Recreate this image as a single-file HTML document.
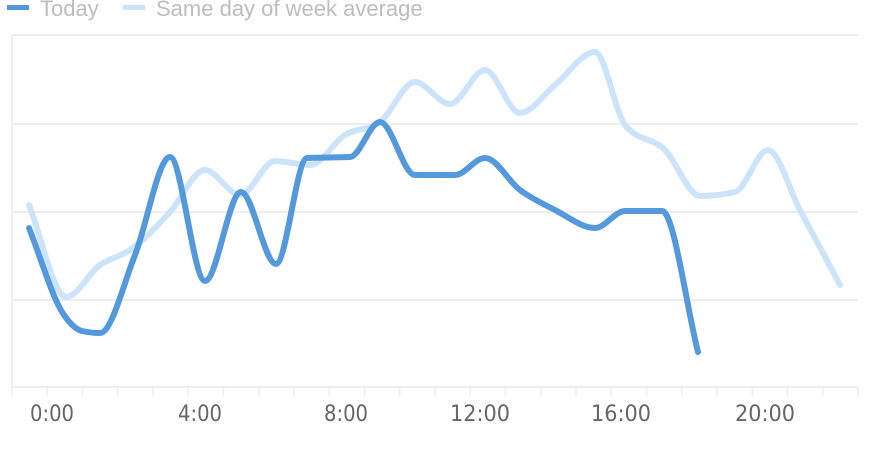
<!DOCTYPE html>
<html><head><meta charset="utf-8"><style>
html,body{margin:0;padding:0;background:#fff;width:888px;height:472px;overflow:hidden}
svg{display:block;font-family:"Liberation Sans",sans-serif}
</style></head><body>
<svg id="s" width="888" height="472" viewBox="0 0 888 472">
<rect x="7" y="5" width="22" height="5" fill="#5599dd"/>
<text x="40" y="16" font-size="22" fill="#bdbdbd">Today</text>
<rect x="123" y="5" width="22" height="5" fill="#cce4fb"/>
<text x="156" y="16" font-size="22" fill="#bdbdbd">Same day of week average</text>
<g stroke="#eeeeee" stroke-width="2" fill="none">
<line x1="12" y1="35" x2="858" y2="35"/>
<line x1="12" y1="124" x2="858" y2="124"/>
<line x1="12" y1="212" x2="858" y2="212"/>
<line x1="12" y1="300" x2="858" y2="300"/>
<line x1="12" y1="387" x2="858" y2="387"/>
<line x1="12" y1="35" x2="12" y2="387"/>
</g>
<g id="ticks" stroke="#eeeeee" stroke-width="1.5"></g>
<g font-size="22" fill="#666" text-anchor="middle" font-family="'DejaVu Sans Condensed','Liberation Sans Narrow','Liberation Sans',sans-serif">
<text x="52" y="421" textLength="44" lengthAdjust="spacingAndGlyphs">0:00</text>
<text x="200" y="421" textLength="44" lengthAdjust="spacingAndGlyphs">4:00</text>
<text x="346" y="421" textLength="44" lengthAdjust="spacingAndGlyphs">8:00</text>
<text x="480" y="421" textLength="60" lengthAdjust="spacingAndGlyphs">12:00</text>
<text x="621" y="421" textLength="60" lengthAdjust="spacingAndGlyphs">16:00</text>
<text x="765" y="421" textLength="60" lengthAdjust="spacingAndGlyphs">20:00</text>
</g>
<path id="avg" fill="none" stroke="#cce4fb" stroke-width="6" stroke-linecap="round" stroke-linejoin="round"/>
<path id="today" fill="none" stroke="#5599dd" stroke-width="6" stroke-linecap="round" stroke-linejoin="round"/>
</svg>
<script>
var t=document.getElementById('ticks'),h='';
for(var i=0;i<=24;i++){var x=12+i*35.25;h+='<line x1="'+x+'" y1="388" x2="'+x+'" y2="396"/>';}
t.innerHTML=h;
function mono(p){var n=p.length,s=[],m=[];
for(var i=0;i<n-1;i++)s.push((p[i+1][1]-p[i][1])/(p[i+1][0]-p[i][0]));
for(var i=0;i<n;i++){if(i==0)m.push(s[0]);else if(i==n-1)m.push(s[n-2]);
else{var a=s[i-1],b=s[i];if(a*b<=0)m.push(0);else{var h0=p[i][0]-p[i-1][0],h1=p[i+1][0]-p[i][0];
var v=(a*h1+b*h0)/(h0+h1);m.push((Math.sign(a)+Math.sign(b))*Math.min(Math.abs(a),Math.abs(b),0.5*Math.abs(v)));}}}
var d='M'+p[0];
for(var i=0;i<n-1;i++){var dx=(p[i+1][0]-p[i][0])/3;
d+=' C'+(p[i][0]+dx)+','+(p[i][1]+m[i]*dx)+' '+(p[i+1][0]-dx)+','+(p[i+1][1]-m[i+1]*dx)+' '+p[i+1];}
return d;}
var today=[[29,228],[64,315],[82,331],[100,333],[135,255],[170,157],[205,281],[241,192],[276,264],[307,158],[350,157],[380,122],[415,175],[455,175],[485,158],[520,190],[555,210],[595,228],[625,211],[662,211],[698,352]];
var avg=[[29,205],[66,297],[100,265],[130,250],[170,212],[205,170],[240,195],[275,161],[310,165],[345,135],[380,122],[415,82],[450,104],[485,70],[520,113],[555,85],[595,52],[625,125],[665,150],[700,196],[735,192],[768,150],[800,210],[840,285]];
document.getElementById('today').setAttribute('d',mono(today));
document.getElementById('avg').setAttribute('d',mono(avg));
</script>
</body></html>
